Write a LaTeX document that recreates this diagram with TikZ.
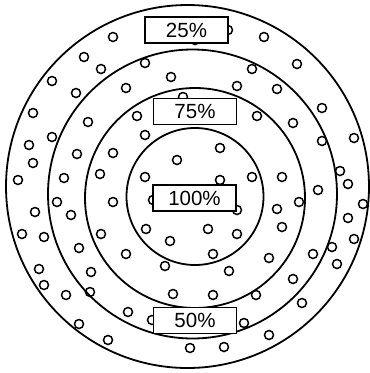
\documentclass[tikz,border=0pt]{standalone}
\usepackage{fontspec}
\setmainfont{Liberation Sans}
\begin{document}
\begin{tikzpicture}[x=1pt,y=-1pt,
  ring/.style={draw=black,line width=1.8pt},
  dot/.style={draw=black,line width=1.5pt},
  lab/.style={draw=black,fill=white,line width=1.7pt,minimum width=83pt,minimum height=26pt,inner sep=0pt,font=\fontsize{20.5}{21}\selectfont}]
\useasboundingbox (0,0) rectangle (370,373);
% rings
\draw[ring] (187.5,186.5) circle[radius=181.5pt];
\draw[ring] (192.5,194) circle[radius=144.5pt];
\draw[ring] (195,198) circle[radius=110pt];
\draw[ring] (195,196.5) circle[radius=68.5pt];
% small circles
\foreach \x/\y in {
113/37, 84/57, 101/69, 145/63, 52/81, 171/77, 126/88, 76/93, 33/113, 88/122, 137/116, 183/97,
29/145, 52/137, 145/135, 33/163, 77/154, 113/153, 177/160, 18/180, 64/178, 100/174, 145/177,
195/40, 228/30,
264/37, 297/64, 252/69, 237/86, 277/89, 322/108, 257/116, 293/123, 322/141, 354/138, 220/148,
252/177, 282/177, 220/180, 340/171, 348/184,
57/202, 113/202, 35/212, 71/215, 22/234, 44/237, 101/234, 146/229, 170/241, 79/248, 126/254,
39/269, 91/272, 165/266, 44/285, 66/295, 90/292, 173/294, 128/312, 152/320, 79/324, 108/340, 153/200,
237/210, 277/209, 299/202, 318/190, 363/204, 208/229, 237/234, 282/227, 348/218, 354/239,
213/254, 269/258, 313/254, 332/247, 337/264, 229/271, 293/279, 213/295, 256/295, 302/303,
244/323, 269/335, 190/348, 224/347}
  \draw[dot] (\x,\y) circle[radius=4.5pt];
% labels
\node[lab] (l25) at (186.5,30) {25\%};
\node[lab] (l75) at (195,111.5) {75\%};
\node[lab] (l100) at (194.5,198) {100\%};
\node[lab] (l50) at (195,320.5) {50\%};
\end{tikzpicture}
\end{document}
